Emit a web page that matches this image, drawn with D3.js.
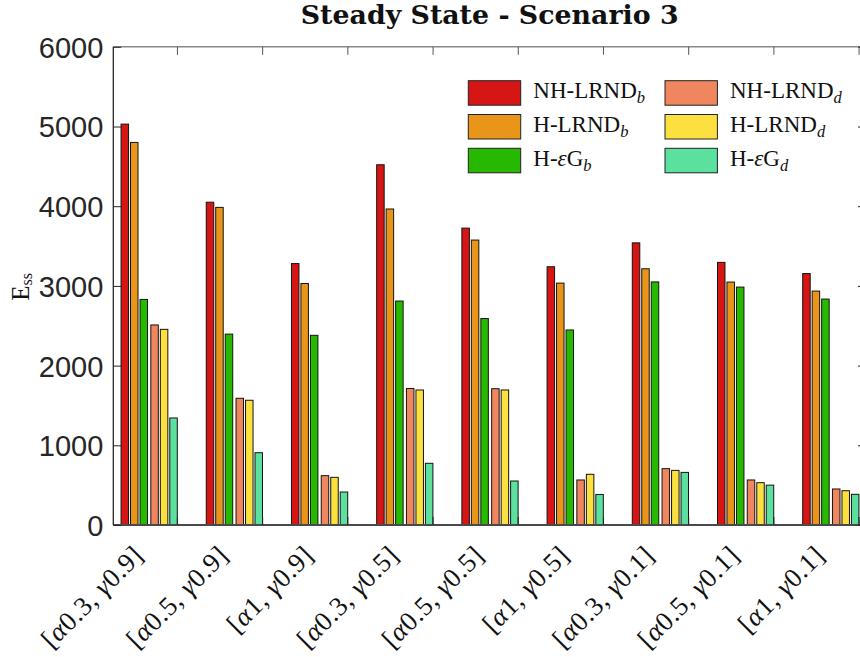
<!DOCTYPE html>
<html>
<head>
<meta charset="utf-8">
<script src="https://cdn.jsdelivr.net/npm/d3@7"></script>
<style>
  html, body { margin: 0; padding: 0; background: #fff; }
  svg { display: block; }
</style>
</head>
<body>
<div id="chart"></div>
<script>
// Steady-state error per parameter combination
const categories = [
  "[α0.3, γ0.9]", "[α0.5, γ0.9]", "[α1, γ0.9]",
  "[α0.3, γ0.5]", "[α0.5, γ0.5]", "[α1, γ0.5]",
  "[α0.3, γ0.1]", "[α0.5, γ0.1]", "[α1, γ0.1]"
];
const seriesNames = ["NH-LRND_b", "H-LRND_b", "H-εG_b", "NH-LRND_d", "H-LRND_d", "H-εG_d"];
const nhLrndB = [5030, 4050, 3280, 4520, 3725, 3240, 3540, 3295, 3155];
const hLrndB  = [4800, 3985, 3030, 3965, 3575, 3035, 3215, 3048, 2935];
const hEpsGB  = [2830, 2395, 2380, 2810, 2590, 2447, 3050, 2985, 2835];
const nhLrndD = [2510, 1590, 619, 1713, 1710, 565, 707, 565, 452];
const hLrndD  = [2455, 1565, 598, 1694, 1694, 636, 685, 531, 430];
const hEpsGD  = [1343, 907, 414, 774, 552, 383, 660, 500, 385];
const yTicks = [0, 1000, 2000, 3000, 4000, 5000, 6000];
const colors = ["#d61515", "#e9951a", "#27b800", "#ef865e", "#fbe040", "#5ce09e"];

const seriesValues = [nhLrndB, hLrndB, hEpsGB, nhLrndD, hLrndD, hEpsGD];

const W = 860, H = 657;
const plotL = 113.3, plotR = 866, plotT = 46.8, plotB = 525;

const svg = d3.select("#chart").append("svg")
  .attr("width", W).attr("height", H)
  .attr("viewBox", `0 0 ${W} ${H}`);

// group i (1-based) sits at position i; the frame spans a custom window
const x = d3.scaleLinear().domain([0.579, 9.413]).range([plotL, plotR]);
const y = d3.scaleLinear().domain([0, 6000]).range([plotB, plotT]);
const unit = x(2) - x(1);

// bar offsets within a group (in group units), symmetric around the centre
const offsets = [-0.286, -0.175, -0.0634, 0.0634, 0.175, 0.286];
const barW = 0.088;
const tickOffset = 0.326;

const plot = svg.append("g");

seriesValues.forEach((vals, s) => {
  plot.selectAll(null)
    .data(vals)
    .enter().append("rect")
    .attr("x", (d, i) => x(i + 1 + offsets[s] - barW / 2))
    .attr("y", d => y(d))
    .attr("width", barW * unit)
    .attr("height", d => y(0) - y(d))
    .attr("fill", colors[s])
    .attr("stroke", "#141414")
    .attr("stroke-width", 1);
});

// frame
const frame = svg.append("g");
frame.append("line").attr("x1", plotL).attr("x2", plotR).attr("y1", plotT).attr("y2", plotT)
  .attr("stroke", "#8a8a8a").attr("stroke-width", 1.5);
frame.append("line").attr("x1", plotL).attr("x2", plotR).attr("y1", plotB).attr("y2", plotB)
  .attr("stroke", "#4a4a4a").attr("stroke-width", 1.8);
frame.append("line").attr("x1", plotL).attr("x2", plotL).attr("y1", plotT).attr("y2", plotB)
  .attr("stroke", "#262626").attr("stroke-width", 1.3);

// y axis
const yAxis = d3.axisLeft(y).tickValues(yTicks).tickFormat(d3.format("d"))
  .tickSizeInner(-8).tickSizeOuter(0).tickPadding(10);
const gy = svg.append("g").attr("transform", `translate(${plotL},0)`).call(yAxis);
gy.select(".domain").remove();
gy.selectAll(".tick line").attr("stroke", "#262626").attr("stroke-width", 1);
gy.selectAll(".tick text")
  .attr("font-family", "'Liberation Sans', Arial, sans-serif")
  .attr("font-size", 29).attr("fill", "#262626").attr("dy", "0.36em");

// right-side ticks
const yAxisR = d3.axisRight(y).tickValues(yTicks).tickSizeInner(-8).tickSizeOuter(0).tickFormat("");
const gyr = svg.append("g").attr("transform", `translate(${plotR},0)`).call(yAxisR);
gyr.select(".domain").remove();
gyr.selectAll(".tick line").attr("stroke", "#262626");

// x ticks (bottom and top)
const xTickVals = categories.map((c, i) => i + 1 + tickOffset);
const xAxisB = d3.axisBottom(x).tickValues(xTickVals).tickSizeInner(-8).tickSizeOuter(0).tickFormat("");
const gxb = svg.append("g").attr("transform", `translate(0,${plotB})`).call(xAxisB);
gxb.select(".domain").remove();
gxb.selectAll(".tick line").attr("stroke", "#262626");
const xAxisT = d3.axisTop(x).tickValues(xTickVals).tickSizeInner(-8).tickSizeOuter(0).tickFormat("");
const gxt = svg.append("g").attr("transform", `translate(0,${plotT})`).call(xAxisT);
gxt.select(".domain").remove();
gxt.selectAll(".tick line").attr("stroke", "#555");

// rotated category labels; greek letters in italics
function richText(sel, str) {
  const parts = str.split(/([αγε])/);
  parts.forEach(p => {
    if (!p) return;
    const t = sel.append("tspan").text(p);
    if (/[αγε]/.test(p)) t.attr("font-style", "italic");
  });
}
const serif = "'Liberation Serif', 'Times New Roman', serif";
const xl = svg.append("g");
categories.forEach((c, i) => {
  const ax = x(i + 1) - 4.5, ay = 557;
  const t = xl.append("text")
    .attr("transform", `translate(${ax},${ay}) rotate(-45)`)
    .attr("text-anchor", "end")
    .attr("font-family", serif)
    .attr("font-size", 27)
    .attr("letter-spacing", 0.6)
    .attr("fill", "#111");
  richText(t, c);
});

// y label
const yl = svg.append("text")
  .attr("transform", `translate(29,287) rotate(-90)`)
  .attr("text-anchor", "middle")
  .attr("font-family", serif).attr("font-size", 25).attr("fill", "#111");
yl.append("tspan").text("E");
yl.append("tspan").text("ss").attr("font-size", 16).attr("dy", 3);

// title
svg.append("text")
  .attr("x", (plotL + plotR) / 2).attr("y", 24)
  .attr("text-anchor", "middle")
  .attr("font-family", "'DejaVu Serif', serif")
  .attr("font-weight", "bold").attr("font-size", 26.8)
  .attr("fill", "#111")
  .text("Steady State - Scenario 3");

// legend: two columns of three entries
const legend = svg.append("g");
const colX = [468.3, 665];
const rowY = [80.7, 114.5, 148.3];
seriesNames.forEach((name, k) => {
  const col = Math.floor(k / 3), row = k % 3;
  legend.append("rect")
    .attr("x", colX[col]).attr("y", rowY[row])
    .attr("width", 52.4).attr("height", 24.5)
    .attr("fill", colors[k]).attr("stroke", "#222").attr("stroke-width", 1);
  const [base, sub] = name.split("_");
  const t = legend.append("text")
    .attr("x", colX[col] + 65).attr("y", rowY[row] + 17.6)
    .attr("font-family", serif).attr("font-size", 23).attr("fill", "#111");
  richText(t, base);
  t.append("tspan").text(sub).attr("font-style", "italic").attr("font-size", 16.5).attr("dy", 5);
});
</script>
</body>
</html>
